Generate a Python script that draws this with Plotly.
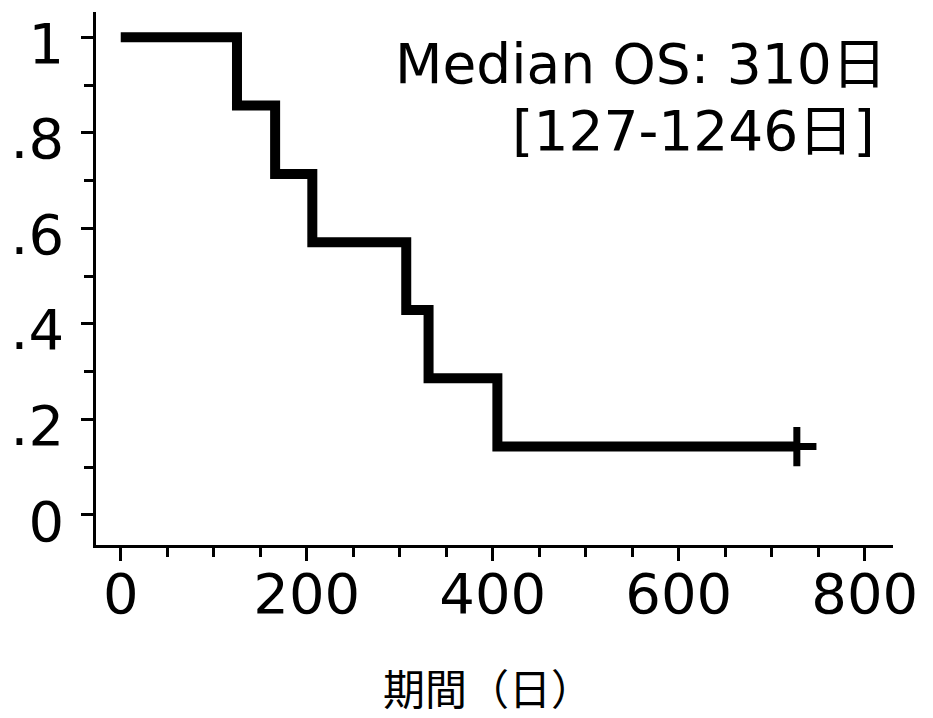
import plotly.graph_objects as go

# Kaplan-Meier step data (days, survival probability)
event_days = [0, 125, 166, 206, 307, 331, 405]
survival = [1.0, 0.857, 0.714, 0.571, 0.429, 0.286, 0.143]
censor_days = [727]
censor_surv = [0.143]

x_ticks = [0, 200, 400, 600, 800]
y_ticks = [0, 0.2, 0.4, 0.6, 0.8, 1.0]
y_ticktext = ["0", ".2", ".4", ".6", ".8", "1"]

median_text = "Median OS: 310日"
ci_text = "[127-1246日]"
x_title = "期間（日）"

line_x = event_days + censor_days
line_y = survival + censor_surv

fig = go.Figure()
fig.add_trace(go.Scatter(
    x=line_x, y=line_y, mode="lines", line_shape="hv",
    line=dict(color="black", width=10), showlegend=False, hoverinfo="skip",
))
fig.add_trace(go.Scatter(
    x=censor_days, y=censor_surv, mode="markers",
    marker=dict(symbol="cross-thin", size=28, line=dict(color="black", width=7)),
    showlegend=False, hoverinfo="skip",
))

tick_font = dict(family="DejaVu Sans, sans-serif", size=56, color="black")

# page body has an 8px margin: figure sized/margined so plot area lands at x 96-893, y 12-545
fig.update_layout(
    width=925, height=710,
    margin=dict(l=88, r=40, t=4, b=173),
    paper_bgcolor="white", plot_bgcolor="white",
    xaxis=dict(
        range=[-26.6, 830.4], tickvals=x_ticks, ticks="outside", ticklen=13, tickwidth=2.5,
        tickcolor="black", showline=True, linewidth=2.5, linecolor="black", automargin=False,
        showgrid=False, zeroline=False, tickfont=tick_font, ticklabelstandoff=-15,
        ticklabeloverflow="allow",
        minor=dict(dtick=50, ticks="outside", ticklen=9, tickwidth=2.5, tickcolor="black", showgrid=False),
    ),
    yaxis=dict(
        range=[-0.063, 1.053], tickvals=y_ticks, ticktext=y_ticktext, ticks="outside", ticklen=12,
        tickwidth=2.5, tickcolor="black", showline=True, linewidth=2.5, linecolor="black",
        automargin=False, ticklabeloverflow="allow", ticklabelshift=6,
        showgrid=False, zeroline=False, tickfont=tick_font, ticklabelstandoff=6,
        minor=dict(dtick=0.1, ticks="outside", ticklen=9, tickwidth=2.5, tickcolor="black", showgrid=False),
    ),
)

ann_font = dict(family="DejaVu Sans, Noto Sans CJK JP, sans-serif", size=55, color="black")
fig.add_annotation(xref="paper", yref="paper", x=(889 - 96) / 797, y=(545 - 64) / 533,
                   xanchor="right", yanchor="middle", text=median_text, showarrow=False,
                   font=ann_font)
fig.add_annotation(xref="paper", yref="paper", x=(877 - 96) / 797, y=(545 - 131) / 533,
                   xanchor="right", yanchor="middle", text=ci_text, showarrow=False,
                   font=ann_font)
fig.add_annotation(xref="paper", yref="paper", x=(488 - 96) / 797, y=(545 - 686) / 533,
                   xanchor="center", yanchor="middle", text=x_title, showarrow=False,
                   font=dict(family="Noto Sans CJK JP", size=42, color="black"))

fig.write_html("out.html")
